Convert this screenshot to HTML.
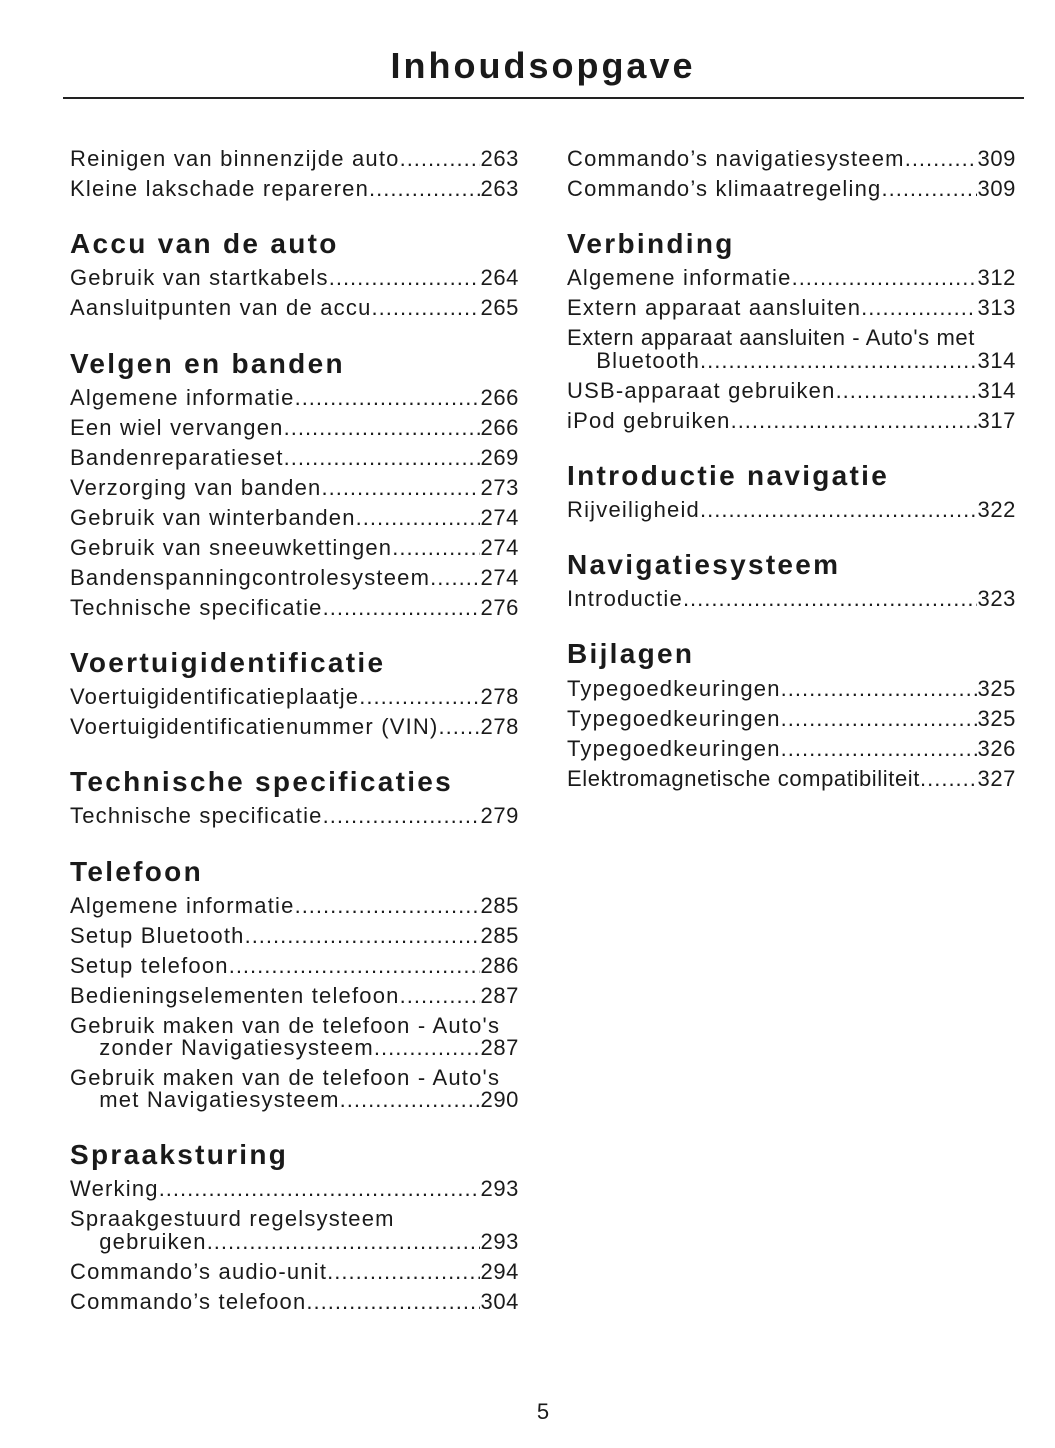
<!DOCTYPE html>
<html><head><meta charset="utf-8"><style>
body{margin:0;width:1055px;height:1448px;background:#fff;position:relative;font-family:"Liberation Sans",sans-serif;color:#1a1a1a;overflow:hidden}
.t{position:absolute;left:0;width:1086px;text-align:center;top:44px;font-size:36px;font-weight:bold;letter-spacing:3px;line-height:44px}
.rule{position:absolute;left:63px;width:961px;top:97px;height:2px;background:#222}
.l{position:absolute;display:flex;width:449px;font-size:22px;line-height:26px;white-space:nowrap;letter-spacing:1.2px}
.l span:last-child{letter-spacing:0.6px}
.l .d{flex:1;overflow:hidden;letter-spacing:1px}
.l .d::before{content:"..............................................................................................................";}
.i{position:absolute;font-size:22px;line-height:26px;white-space:nowrap;letter-spacing:1.2px}
.h{position:absolute;font-size:28px;font-weight:bold;line-height:32px;white-space:nowrap;letter-spacing:2.3px}
.p{position:absolute;left:0;width:1086px;text-align:center;top:1399px;font-size:22px}
</style></head><body>
<div class="t">Inhoudsopgave</div>
<div class="rule"></div>

<div class="l" style="left:70px;top:146px"><span>Reinigen van binnenzijde auto</span><span class="d"></span><span>263</span></div>
<div class="l" style="left:70px;top:176px"><span>Kleine lakschade repareren</span><span class="d"></span><span>263</span></div>
<div class="h" style="left:70px;top:228px">Accu van de auto</div>
<div class="l" style="left:70px;top:265px"><span>Gebruik van startkabels</span><span class="d"></span><span>264</span></div>
<div class="l" style="left:70px;top:295px"><span>Aansluitpunten van de accu </span><span class="d"></span><span>265</span></div>
<div class="h" style="left:70px;top:348px">Velgen en banden</div>
<div class="l" style="left:70px;top:385px"><span>Algemene informatie</span><span class="d"></span><span>266</span></div>
<div class="l" style="left:70px;top:415px"><span>Een wiel vervangen</span><span class="d"></span><span>266</span></div>
<div class="l" style="left:70px;top:445px"><span>Bandenreparatieset </span><span class="d"></span><span>269</span></div>
<div class="l" style="left:70px;top:475px"><span>Verzorging van banden</span><span class="d"></span><span>273</span></div>
<div class="l" style="left:70px;top:505px"><span>Gebruik van winterbanden</span><span class="d"></span><span>274</span></div>
<div class="l" style="left:70px;top:535px"><span>Gebruik van sneeuwkettingen</span><span class="d"></span><span>274</span></div>
<div class="l" style="left:70px;top:565px"><span>Bandenspanningcontrolesysteem</span><span class="d"></span><span>274</span></div>
<div class="l" style="left:70px;top:595px"><span>Technische specificatie</span><span class="d"></span><span>276</span></div>
<div class="h" style="left:70px;top:647px">Voertuigidentificatie</div>
<div class="l" style="left:70px;top:684px"><span>Voertuigidentificatieplaatje</span><span class="d"></span><span>278</span></div>
<div class="l" style="left:70px;top:714px"><span>Voertuigidentificatienummer (VIN)</span><span class="d"></span><span>278</span></div>
<div class="h" style="left:70px;top:766px">Technische specificaties</div>
<div class="l" style="left:70px;top:803px"><span>Technische specificatie</span><span class="d"></span><span>279</span></div>
<div class="h" style="left:70px;top:856px">Telefoon</div>
<div class="l" style="left:70px;top:893px"><span>Algemene informatie</span><span class="d"></span><span>285</span></div>
<div class="l" style="left:70px;top:923px"><span>Setup Bluetooth</span><span class="d"></span><span>285</span></div>
<div class="l" style="left:70px;top:953px"><span>Setup  telefoon</span><span class="d"></span><span>286</span></div>
<div class="l" style="left:70px;top:983px"><span>Bedieningselementen telefoon</span><span class="d"></span><span>287</span></div>
<div class="i" style="left:70px;top:1013px">Gebruik maken van de telefoon - Auto's</div>
<div class="l" style="left:70px;top:1035px"><span>&nbsp;&nbsp;&nbsp;&nbsp;zonder Navigatiesysteem </span><span class="d"></span><span>287</span></div>
<div class="i" style="left:70px;top:1065px">Gebruik maken van de telefoon - Auto's</div>
<div class="l" style="left:70px;top:1087px"><span>&nbsp;&nbsp;&nbsp;&nbsp;met Navigatiesysteem </span><span class="d"></span><span>290</span></div>
<div class="h" style="left:70px;top:1139px">Spraaksturing</div>
<div class="l" style="left:70px;top:1176px"><span>Werking</span><span class="d"></span><span>293</span></div>
<div class="i" style="left:70px;top:1206px">Spraakgestuurd regelsysteem</div>
<div class="l" style="left:70px;top:1229px"><span>&nbsp;&nbsp;&nbsp;&nbsp;gebruiken</span><span class="d"></span><span>293</span></div>
<div class="l" style="left:70px;top:1259px"><span>Commando’s audio-unit </span><span class="d"></span><span>294</span></div>
<div class="l" style="left:70px;top:1289px"><span>Commando’s  telefoon</span><span class="d"></span><span>304</span></div>

<div class="l" style="left:567px;top:146px"><span>Commando’s navigatiesysteem</span><span class="d"></span><span>309</span></div>
<div class="l" style="left:567px;top:176px"><span>Commando’s  klimaatregeling</span><span class="d"></span><span>309</span></div>
<div class="h" style="left:567px;top:228px">Verbinding</div>
<div class="l" style="left:567px;top:265px"><span>Algemene  informatie</span><span class="d"></span><span>312</span></div>
<div class="l" style="left:567px;top:295px"><span>Extern apparaat aansluiten </span><span class="d"></span><span>313</span></div>
<div class="i" style="left:567px;top:325px;letter-spacing:0.6px">Extern apparaat aansluiten - Auto's met</div>
<div class="l" style="left:567px;top:348px"><span>&nbsp;&nbsp;&nbsp;&nbsp;Bluetooth</span><span class="d"></span><span>314</span></div>
<div class="l" style="left:567px;top:378px"><span>USB-apparaat gebruiken </span><span class="d"></span><span>314</span></div>
<div class="l" style="left:567px;top:408px"><span>iPod gebruiken </span><span class="d"></span><span>317</span></div>
<div class="h" style="left:567px;top:460px">Introductie navigatie</div>
<div class="l" style="left:567px;top:497px"><span>Rijveiligheid </span><span class="d"></span><span>322</span></div>
<div class="h" style="left:567px;top:549px">Navigatiesysteem</div>
<div class="l" style="left:567px;top:586px"><span>Introductie </span><span class="d"></span><span>323</span></div>
<div class="h" style="left:567px;top:638px">Bijlagen</div>
<div class="l" style="left:567px;top:676px"><span>Typegoedkeuringen</span><span class="d"></span><span>325</span></div>
<div class="l" style="left:567px;top:706px"><span>Typegoedkeuringen</span><span class="d"></span><span>325</span></div>
<div class="l" style="left:567px;top:736px"><span>Typegoedkeuringen</span><span class="d"></span><span>326</span></div>
<div class="l" style="left:567px;top:766px"><span style="letter-spacing:0.6px">Elektromagnetische compatibiliteit</span><span class="d"></span><span>327</span></div>

<div class="p">5</div>
</body></html>
